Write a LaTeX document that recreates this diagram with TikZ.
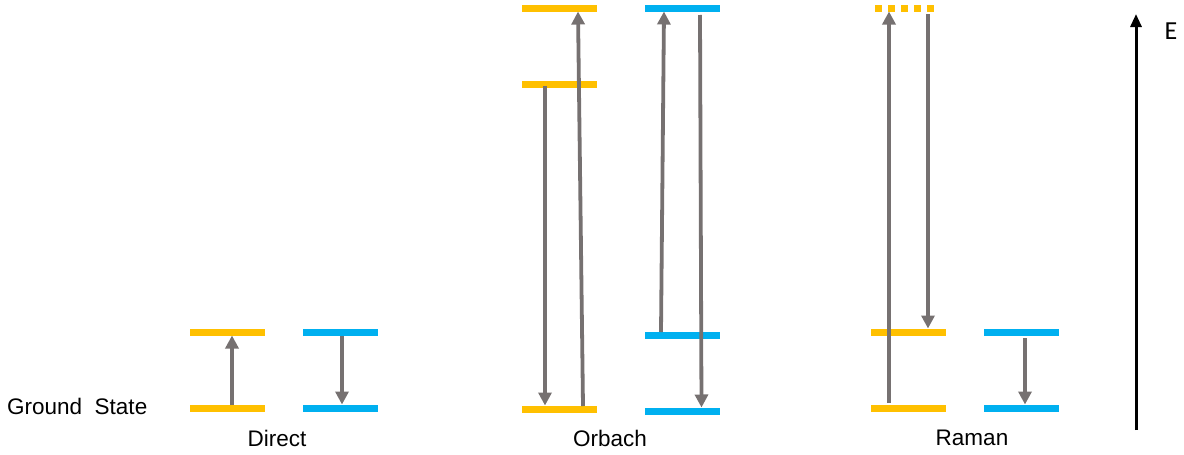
\documentclass[tikz,border=0pt]{standalone}
\usepackage{fontspec}
\setmainfont{Liberation Sans}
\newfontfamily\efont{Carlito}
\usetikzlibrary{arrows.meta}
\definecolor{lvorange}{HTML}{FFC000}
\definecolor{lvblue}{HTML}{00B0F0}
\definecolor{arrgray}{HTML}{767171}
\begin{document}
\begin{tikzpicture}[x=1pt,y=-1pt,
  bar/.style={fill=#1,draw=none,minimum width=75pt,minimum height=7pt,inner sep=0pt,outer sep=0pt},
  trans/.style={draw=arrgray,line width=3.8pt,-{Triangle[width=13pt,length=13pt]}},
  label/.style={font=\fontsize{22.5}{26}\selectfont,inner sep=0pt}]
\useasboundingbox (0,0) rectangle (1184,455);
% Direct
\node[bar=lvorange] (d1u) at (227,332) {};
\node[bar=lvorange] (d1g) at (227,408) {};
\node[bar=lvblue] (d2u) at (340.5,332) {};
\node[bar=lvblue] (d2g) at (340.5,408) {};
\coordinate (da0) at (232,405);
\coordinate (da1) at (232,335.5);
\coordinate (db0) at (342,336);
\coordinate (db1) at (342,404.5);
\draw[trans] (da0) -- (da1);
\draw[trans] (db0) -- (db1);
% Orbach
\node[bar=lvorange] (o1t) at (559.5,8) {};
\node[bar=lvorange] (o1m) at (559.5,84) {};
\node[bar=lvorange] (o1g) at (559.5,409) {};
\node[bar=lvblue] (o2t) at (682.5,8) {};
\node[bar=lvblue] (o2m) at (682.5,335) {};
\node[bar=lvblue] (o2g) at (682.5,411) {};
\coordinate (oa0) at (545,86);
\coordinate (oa1) at (545,405.5);
\coordinate (ob0) at (583,406);
\coordinate (ob1) at (578,11.5);
\coordinate (oc0) at (661,332);
\coordinate (oc1) at (664,11.5);
\coordinate (od0) at (700,15);
\coordinate (od1) at (701.5,407.5);
\draw[trans] (oa0) -- (oa1);
\draw[trans] (ob0) -- (ob1);
\draw[trans] (oc0) -- (oc1);
\draw[trans] (od0) -- (od1);
% Raman
\draw[lvorange,line width=7pt,dash pattern=on 7pt off 6pt] (875,8) -- (938,8);
\node[bar=lvorange] (r1m) at (908,332) {};
\node[bar=lvorange] (r1g) at (908,408) {};
\node[bar=lvblue] (r2m) at (1021,332) {};
\node[bar=lvblue] (r2g) at (1021,408) {};
\coordinate (ra0) at (889,403);
\coordinate (ra1) at (889,11.5);
\coordinate (rb0) at (928,14);
\coordinate (rb1) at (928,328.5);
\coordinate (rc0) at (1025,338);
\coordinate (rc1) at (1025,404.5);
\draw[trans] (ra0) -- (ra1);
\draw[trans] (rb0) -- (rb1);
\draw[trans] (rc0) -- (rc1);
% Energy axis
\coordinate (e0) at (1136,430);
\coordinate (e1) at (1136,14);
\draw[black,line width=3pt,-{Triangle[width=11pt,length=13pt]}] (e0) -- (e1);
\node[inner sep=0pt,font=\efont\fontsize{26}{28}\selectfont] (elab) at (1171,31) {E};
% labels
\node[label,anchor=west] (gs) at (7,406) {Ground\ \ State};
\node[label] (ldirect) at (277,438) {Direct};
\node[label] (lorbach) at (610,438) {Orbach};
\node[label] (lraman) at (972,438) {Raman};
\end{tikzpicture}
\end{document}
